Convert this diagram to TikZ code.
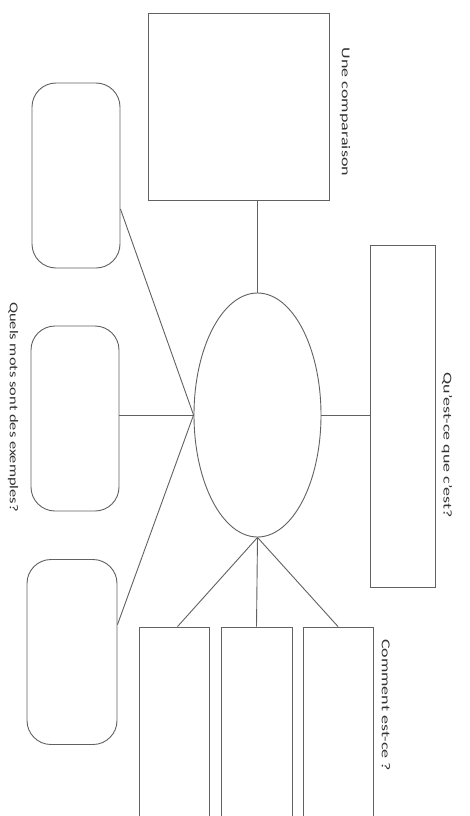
\documentclass[tikz,border=0pt]{standalone}
\usepackage{fontspec}
\setmainfont{Carlito}
\usetikzlibrary{shapes.geometric,calc}
\tikzset{
  ln/.style={draw=black!62, line width=0.9pt},
  box/.style={ln, rectangle, inner sep=0pt},
  rbox/.style={ln, rectangle, rounded corners=24pt, inner sep=0pt, minimum width=88pt, minimum height=185pt},
  lbl/.style={rotate=-90, inner sep=0pt, text=black!80, font=\fontsize{12pt}{14pt}\selectfont},
}
\newcommand{\stretchtxt}[2][1.5]{\scalebox{#1}[1]{#2}}
\begin{document}
\begin{tikzpicture}[x=1pt,y=-1pt]
\useasboundingbox (0,0) rectangle (469,816);
\clip (0,0) rectangle (469,816);
\fill[white] (0,0) rectangle (469,816);
% shapes
\node[box, minimum width=181pt, minimum height=187pt] (sq) at (238.5,106.5) {};
\node[ln, ellipse, inner sep=0pt, minimum width=127pt, minimum height=244pt] (ell) at (257.5,415) {};
\node[rbox] (rr1) at (76,175.5) {};
\node[rbox] (rr2) at (75,418.5) {};
\node[rbox, minimum width=90pt] (rr3) at (72,652) {};
\node[box, minimum width=65pt, minimum height=342pt] (qr) at (402.5,416) {};
\node[box, minimum width=70pt, minimum height=220pt] (b1) at (174,737) {};
\node[box, minimum width=71pt, minimum height=220pt] (b2) at (256.5,737) {};
\node[box, minimum width=70pt, minimum height=220pt] (b3) at (338,737) {};
% labels
\node[lbl] (t1) at (345,112) {\stretchtxt{Une comparaison}};
\node[lbl] (t2) at (447,445) {\stretchtxt{Qu'est-ce que c'est?}};
\node[lbl] (t3) at (13,407) {\stretchtxt[1.37]{Quels mots sont des exemples?}};
\node[lbl] (t4) at (386,705) {\stretchtxt{Comment est-ce ?}};
% connectors
\draw[ln] (ell.north) -- (sq.south -| ell.north);
\draw[ln] (ell.east) -- (ell.east -| qr.west);
\draw[ln] (ell.west) -- (ell.west -| rr2.east);
\draw[ln] (ell.west) -- (rr1.-37);
\draw[ln] (ell.west) -- (rr3.31);
\draw[ln] (ell.south) -- ($(b1.north west)!0.55!(b1.north east)$);
\draw[ln] (ell.south) -- (b2.north);
\draw[ln] (ell.south) -- (b3.north);
\end{tikzpicture}
\end{document}
